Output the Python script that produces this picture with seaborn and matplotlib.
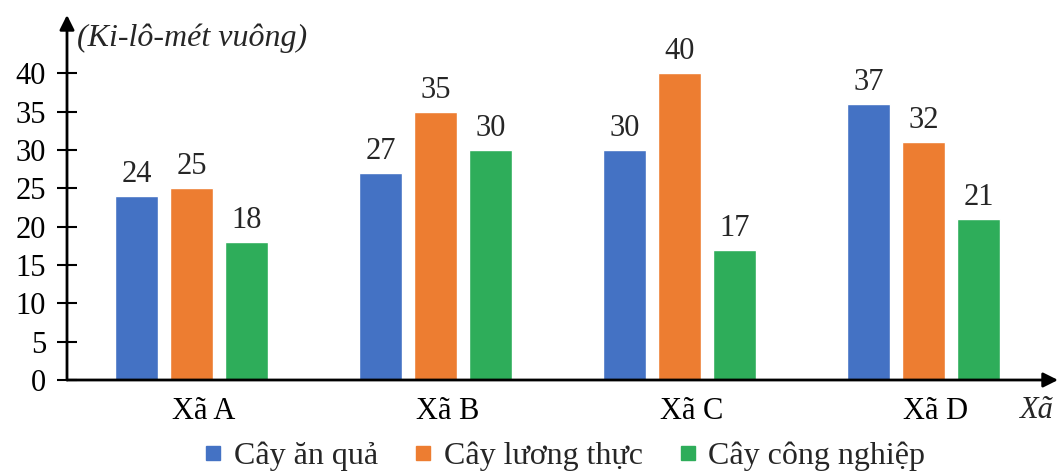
import numpy as np
import pandas as pd
import seaborn as sns
from matplotlib import pyplot as plt
from matplotlib.lines import Line2D

# data
xa = ['Xã A', 'Xã B', 'Xã C', 'Xã D']
loai = ['Cây ăn quả', 'Cây lương thực', 'Cây công nghiệp']
cay_an_qua = [24, 27, 30, 36]
cay_luong_thuc = [25, 35, 40, 31]
cay_cong_nghiep = [18, 30, 17, 21]
# numbers printed above the bars (not always equal to bar height)
nhan_an_qua = ['24', '27', '30', '37']
nhan_luong_thuc = ['25', '35', '40', '32']
nhan_cong_nghiep = ['18', '30', '17', '21']
mau = ['#4472C4', '#ED7D31', '#2EAD5A']

df = pd.DataFrame({
    'xa': xa * 3,
    'loai': np.repeat(loai, len(xa)),
    'dien_tich': cay_an_qua + cay_luong_thuc + cay_cong_nghiep,
})

sns.set_theme(style='white')
plt.rcParams['font.family'] = ['Liberation Serif', 'DejaVu Serif']
fs = 22

fig = plt.figure(figsize=(10.6, 4.74), dpi=100)
ax = fig.add_axes([67 / 1060, 1 - 380 / 474, (1058 - 67) / 1060, (380 - 15) / 474])

sns.barplot(data=df, x='xa', y='dien_tich', hue='loai', hue_order=loai,
            palette=mau, saturation=1, width=0.675, gap=0.222,
            legend=False, ax=ax)

for cont, nhan in zip(ax.containers, [nhan_an_qua, nhan_luong_thuc, nhan_cong_nghiep]):
    ax.bar_label(cont, labels=nhan, padding=5, fontsize=fs)

ax.set_xlim(-0.51, 3.55)
ax.set_ylim(0, 47.6)
ax.set_yticks(range(0, 45, 5))
ax.set_xticks(np.arange(len(xa)) + 0.05)
ax.set_xticklabels(xa)
ax.set_xlabel('')
ax.set_ylabel('')
ax.tick_params(axis='y', direction='inout', length=14, width=1.5, pad=8,
               labelsize=fs, left=True, colors='black')
ax.tick_params(axis='x', length=0, pad=12, labelsize=fs, colors='black')

for s in ax.spines.values():
    s.set_visible(False)

# axis lines with arrow heads
arrow = dict(arrowstyle='-|>', lw=2, color='black', mutation_scale=22, shrinkA=0, shrinkB=0)
ax.annotate('', xy=(1, 0), xytext=(0, 0), xycoords='axes fraction', arrowprops=arrow)
ax.annotate('', xy=(0, 1), xytext=(0, 0), xycoords='axes fraction', arrowprops=arrow)

fig.text(77 / 1060, 1 - 38 / 474, '(Ki-lô-mét vuông)', style='italic', fontsize=23,
         va='center', ha='left')
fig.text(1036 / 1060, 1 - 410 / 474, 'Xã', style='italic', fontsize=fs,
         va='center', ha='center')

handles = [Line2D([], [], marker='s', linestyle='', markersize=9.5, color=c) for c in mau]
fig.legend(handles, loai, loc='center', bbox_to_anchor=(563 / 1060, 1 - 456 / 474),
           ncol=3, frameon=False, fontsize=23, handletextpad=0.25, columnspacing=1.0,
           handlelength=0.8, borderpad=0)

plt.savefig('out.png', dpi=100)
